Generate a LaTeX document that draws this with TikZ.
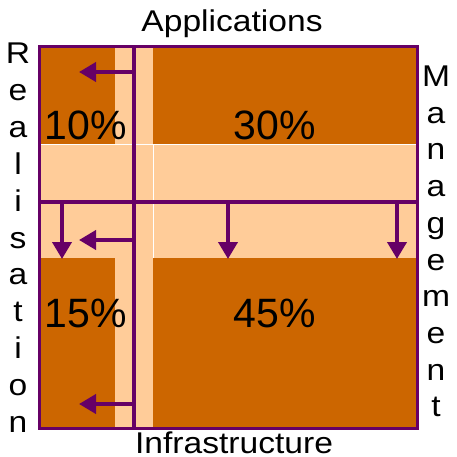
\documentclass[tikz,border=0pt]{standalone}
\usepackage{fontspec}
\setmainfont{Liberation Sans}
\usetikzlibrary{arrows.meta}
\definecolor{orng}{HTML}{CC6600}
\definecolor{peach}{HTML}{FFCC99}
\definecolor{purp}{HTML}{660066}
\newcommand{\widetext}[1]{\scalebox{1.12}[1]{#1}}
\tikzset{
  blk/.style={fill=orng, draw=none},
  pline/.style={draw=purp, line width=4pt},
  parrow/.style={draw=purp, line width=4pt, -{Triangle[width=19pt,length=17pt]}},
  wline/.style={draw=white, line width=1pt},
  pct/.style={font=\fontsize{41}{41}\selectfont, anchor=base, inner sep=0pt},
  lbl/.style={font=\fontsize{30}{30}\selectfont, anchor=base, inner sep=0pt, text depth=0pt},
  side/.style={font=\fontsize{30}{30}\selectfont, anchor=base, inner sep=0pt}
}
\begin{document}
\begin{tikzpicture}[x=1pt,y=-1pt]
\useasboundingbox (0,0) rectangle (456,457);
% background panel
\fill[peach] (39,47) rectangle (417,428);
\fill[blk] (39,47) rectangle (115,145);
\fill[blk] (153,47) rectangle (417,145);
\fill[blk] (39,258) rectangle (115,428);
\fill[blk] (153,258) rectangle (417,428);
\draw[wline] (39,145) -- (417,145);
\draw[wline] (153,145) -- (153,258);
% frame
\draw[draw=purp, line width=3pt] (39,47) rectangle (417,428);
% coordinates
\coordinate (vt) at (134,47);
\coordinate (vb) at (134,428);
\coordinate (hl) at (39,202);
\coordinate (hr) at (417,202);
\coordinate (a1s) at (134,72);  \coordinate (a1e) at (79,72);
\coordinate (a2s) at (134,240); \coordinate (a2e) at (79,240);
\coordinate (a3s) at (134,404); \coordinate (a3e) at (79,404);
\coordinate (d1s) at (62,202);  \coordinate (d1e) at (62,259);
\coordinate (d2s) at (228,202); \coordinate (d2e) at (228,259);
\coordinate (d3s) at (397,202); \coordinate (d3e) at (397,259);
\draw[pline] (vt) -- (vb);
\draw[pline] (hl) -- (hr);
\draw[parrow] (a1s) -- (a1e);
\draw[parrow] (a2s) -- (a2e);
\draw[parrow] (a3s) -- (a3e);
\draw[parrow] (d1s) -- (d1e);
\draw[parrow] (d2s) -- (d2e);
\draw[parrow] (d3s) -- (d3e);
% percentages
\node[pct] (p10) at (86,140) {10\%};
\node[pct] (p30) at (275,140) {30\%};
\node[pct] (p15) at (86,327) {15\%};
\node[pct] (p45) at (275,327) {45\%};
% titles
\node[lbl] (app) at (232,32) {\widetext{Applications}};
\node[lbl] (inf) at (234,453) {\widetext{Infrastructure}};
% side letters
\foreach \ch [count=\i from 0] in {R,e,a,l,i,s,a,t,i,o,n}
  \node[side] (r\i) at (18,64+36.8*\i) {\widetext{\ch}};
\foreach \ch [count=\i from 0] in {M,a,n,a,g,e,m,e,n,t}
  \node[side] (m\i) at (436,86.5+36.7*\i) {\widetext{\ch}};
\end{tikzpicture}
\end{document}
